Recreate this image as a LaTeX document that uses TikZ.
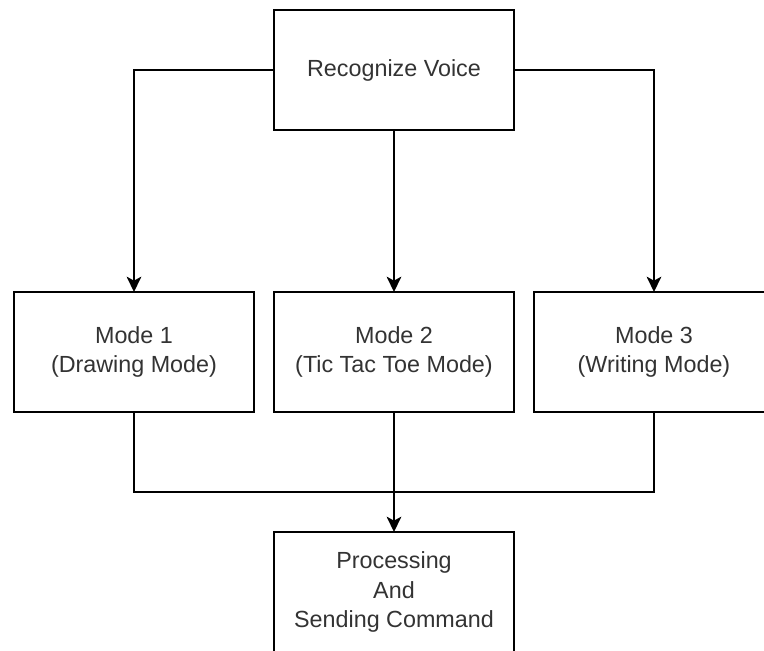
\documentclass[tikz,border=0pt]{standalone}
\usepackage{fontspec}
\setmainfont{Liberation Sans}
\usetikzlibrary{arrows.meta}
\tikzset{
  box/.style={draw=black, line width=1.5pt, fill=white, minimum width=180pt, minimum height=90pt,
    inner sep=0pt, outer sep=0pt, align=center, text=black!80,
    font=\fontsize{17.5pt}{22pt}\selectfont},
  conn/.style={draw=black, line width=1.5pt},
  arr/.style={conn, -{Stealth[length=11.5pt, width=11pt, inset=3pt]}}
}
\begin{document}
\begin{tikzpicture}[x=0.75pt, y=-0.75pt]
\useasboundingbox (0,0) rectangle (764,650);
\clip (0,0) rectangle (764,650);
\fill[white] (0,0) rectangle (764,650);
\node[box] (rv) at (394,70) {Recognize Voice};
\node[box] (m1) at (134,352) {Mode 1\\(Drawing Mode)};
\node[box] (m2) at (394,352) {Mode 2\\(Tic Tac Toe Mode)};
\node[box] (m3) at (654,352) {Mode 3\\(Writing Mode)};
\node[box] (pr) at (394,592) {Processing\\And\\Sending Command};
\coordinate (j) at (394,492);
\draw[arr] (rv.west) -| (m1.north);
\draw[arr] (rv.east) -| (m3.north);
\draw[arr] (rv.south) -- (m2.north);
\draw[conn] (m1.south) |- (j) -| (m3.south);
\draw[arr] (m2.south) -- (pr.north);
\end{tikzpicture}
\end{document}
